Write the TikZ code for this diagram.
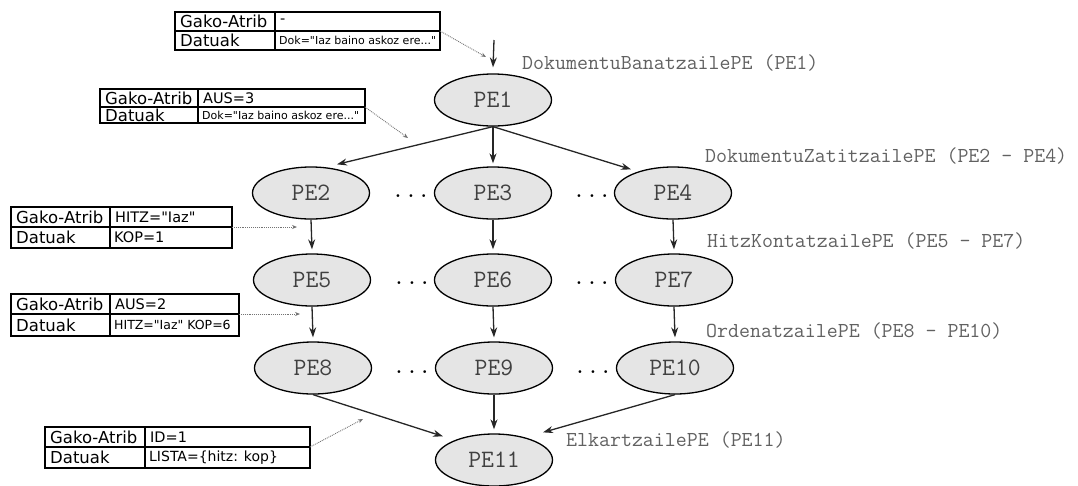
\documentclass[tikz,border=0pt]{standalone}
\usepackage{fontspec}
\setmainfont{DejaVu Sans}[Ligatures=TeXOff]
\usetikzlibrary{shapes.geometric,arrows.meta}
\tikzset{
  pe/.style={ellipse, draw=black, line width=1.3pt, fill=black!10, minimum width=117pt, minimum height=52pt, inner sep=0pt, font=\ttfamily\fontsize{25}{25}\selectfont, text=black!75},
  arr/.style={-{Stealth[length=10pt,width=7pt]}, line width=1.3pt, black!85},
  dotarr/.style={densely dotted, black!55, line width=0.9pt, -{Stealth[length=5pt,width=4pt]}},
  layer/.style={anchor=west, inner sep=0pt, font=\ttfamily\fontsize{21.3}{22}\selectfont, text=black!62},
  dotsnode/.style={anchor=base, inner sep=0pt, font=\ttfamily\fontsize{25}{25}\selectfont},
  tbl/.style={draw=black, line width=1.2pt},
  keytxt/.style={anchor=west, inner sep=0pt, font=\fontsize{16.5}{18}\selectfont},
  valtxt/.style={anchor=west, inner sep=0pt, font=\fontsize{14.5}{16}\selectfont},
}
\newcommand\datatab[9]{%
  \draw[tbl] (#2,#3) rectangle (#6,#7);
  \draw[tbl] (#4,#3) -- (#4,#7);
  \draw[tbl] (#2,#5) -- (#6,#5);
  \node[keytxt] (#1-k1) at ({#2+5},{(#3+#5)/2}) {Gako-Atrib};
  \node[keytxt] (#1-k2) at ({#2+5},{(#5+#7)/2}) {Datuak};
  \node[valtxt] (#1-v1) at ({#4+5},{(#3+#5)/2}) {#8};
  \node[valtxt] (#1-v2) at ({#4+4},{(#5+#7)/2}) {#9};
  \coordinate (#1-out) at (#6,#5);
}
\begin{document}
\begin{tikzpicture}[x=1pt,y=-1pt]
\useasboundingbox (0,0) rectangle (1078,485);

% ellipses
\node[pe] (PE1) at (493,100) {PE1};
\node[pe] (PE2) at (311,193) {PE2};
\node[pe] (PE3) at (493,193) {PE3};
\node[pe] (PE4) at (673,193) {PE4};
\node[pe] (PE5) at (312,280) {PE5};
\node[pe] (PE6) at (493,280) {PE6};
\node[pe] (PE7) at (674,280) {PE7};
\node[pe] (PE8) at (313,368) {PE8};
\node[pe] (PE9) at (494,368) {PE9};
\node[pe] (PE10) at (675,368) {PE10};
\node[pe] (PE11) at (494,460) {PE11};

% dots
\node[dotsnode] (dA) at (411,197) {...};
\node[dotsnode] (dB) at (592,197) {...};
\node[dotsnode] (dC) at (412,284) {...};
\node[dotsnode] (dD) at (592,284) {...};
\node[dotsnode] (dE) at (412,373) {...};
\node[dotsnode] (dF) at (593,373) {...};

% arrows
\coordinate (in) at (494,40);
\draw[arr] (in) -- ([yshift=6pt]PE1.north);
\draw[arr] (PE1.south) -- ([xshift=26pt,yshift=2pt]PE2.north);
\draw[arr] (PE1.south) -- ([yshift=3pt]PE3.north);
\draw[arr] (PE1.south) -- ([xshift=-42pt,yshift=-3pt]PE4.north);
\draw[arr] (PE2.south) -- ([yshift=4pt]PE5.north);
\draw[arr] (PE3.south) -- ([yshift=4pt]PE6.north);
\draw[arr] (PE4.south) -- ([yshift=4pt]PE7.north);
\draw[arr] (PE5.south) -- ([yshift=4pt]PE8.north);
\draw[arr] (PE6.south) -- ([yshift=4pt]PE9.north);
\draw[arr] (PE7.south) -- ([yshift=4pt]PE10.north);
\draw[arr] (PE8.south) -- ([xshift=-51pt,yshift=-3pt]PE11.north);
\draw[arr] (PE9.south) -- ([yshift=4pt]PE11.north);
\draw[arr] (PE10.south) -- ([xshift=49pt,yshift=1pt]PE11.north);

% layer labels
\node[layer] (L1) at (522,63) {DokumentuBanatzailePE (PE1)};
\node[layer] (L2) at (705,156) {DokumentuZatitzailePE (PE2 - PE4)};
\node[layer] (L3) at (707,241) {HitzKontatzailePE (PE5 - PE7)};
\node[layer] (L4) at (706,331) {OrdenatzailePE (PE8 - PE10)};
\node[layer] (L5) at (566,440) {ElkartzailePE (PE11)};

% tables
\datatab{t1}{175}{12}{275}{31}{440}{50}{-}{\fontsize{11}{12}\selectfont Dok="Iaz baino askoz ere..."}
\datatab{t2}{100}{89}{198}{107}{365}{123}{AUS=3}{\fontsize{11}{12}\selectfont Dok="Iaz baino askoz ere..."}
\datatab{t3}{11}{207}{110}{227}{232}{248}{HITZ="Iaz"}{KOP=1}
\datatab{t4}{11}{294}{110}{314}{239}{336}{AUS=2}{\fontsize{12.5}{14}\selectfont HITZ="Iaz" KOP=6}
\datatab{t5}{45}{427}{145}{447}{310}{468}{ID=1}{\fontsize{14}{16}\selectfont LISTA=\{hitz: kop\}}

% dotted pointers
\coordinate (p1) at (486,57);
\coordinate (p2) at (408,138);
\coordinate (p3) at (297,227);
\coordinate (p4) at (300,314);
\coordinate (p5) at (363,419);
\draw[dotarr] (t1-out) -- (p1);
\draw[dotarr] (t2-out) -- (p2);
\draw[dotarr] (t3-out) -- (p3);
\draw[dotarr] (t4-out) -- (p4);
\draw[dotarr] (t5-out) -- (p5);
\end{tikzpicture}
\end{document}
